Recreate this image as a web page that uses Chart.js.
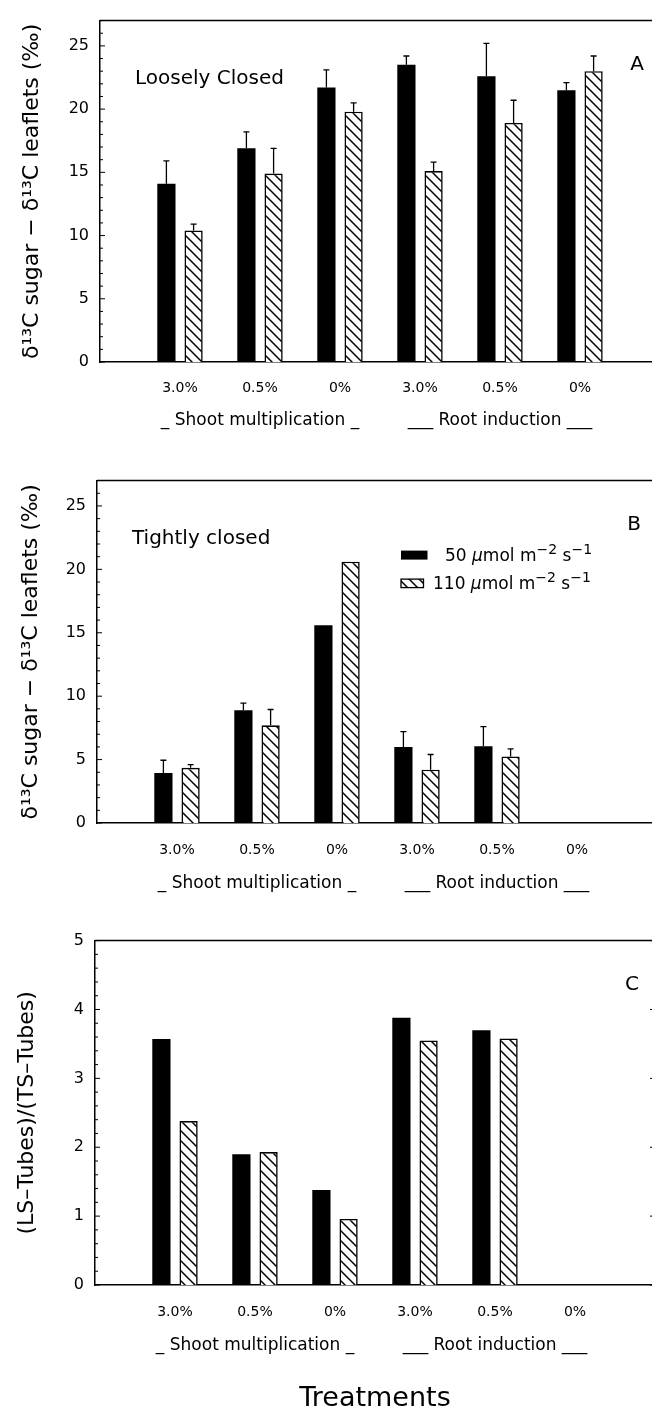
<!DOCTYPE html>
<html>
<head>
<meta charset="utf-8">
<script src="https://cdn.jsdelivr.net/npm/chart.js@4.4.1/dist/chart.umd.min.js"></script>
<style>
  html, body { margin: 0; padding: 0; background: #fff; overflow: hidden; }
  body { width: 652px; height: 1409px; position: relative; }
  .panel { position: absolute; left: 0; width: 680px; }
  canvas { display: block; }
</style>
</head>
<body>
<div class="panel" style="top:0"><canvas id="chartA" width="680" height="440"></canvas></div>
<div class="panel" style="top:460px"><canvas id="chartB" width="680" height="440"></canvas></div>
<div class="panel" style="top:920px"><canvas id="chartC" width="680" height="500"></canvas></div>
<script>
const FONT = '"DejaVu Sans", sans-serif';

const categories = ['3.0%', '0.5%', '0%', '3.0%', '0.5%', '0%'];
const groupLabels = ['_ Shoot multiplication _', '___ Root induction ___'];
const groupMiddle = [1, 4]; // middle category of each group
const doses = ['50', '110'];

// panel A, loosely closed tubes
const looseLow = [14.1, 16.9, 21.7, 23.5, 22.6, 21.5];
const looseLowErr = [1.8, 1.3, 1.4, 0.7, 2.6, 0.6];
const looseHigh = [10.4, 14.9, 19.8, 15.1, 18.9, 23.0];
const looseHighErr = [0.5, 2.0, 0.7, 0.7, 1.8, 1.2];

// panel B, tightly closed tubes
const tightLow = [3.95, 8.9, 15.6, 6.0, 6.05, null];
const tightLowErr = [1.0, 0.55, null, 1.2, 1.55, null];
const tightHigh = [4.35, 7.7, 20.6, 4.2, 5.25, null];
const tightHighErr = [0.25, 1.25, null, 1.2, 0.6, null];

// panel C, ratio LS/TS
const ratioLow = [3.57, 1.90, 1.38, 3.88, 3.70, null];
const ratioHigh = [2.38, 1.93, 0.96, 3.55, 3.58, null];

const yLabelsAB = [0, 5, 10, 15, 20, 25];
const yLabelsC = [0, 1, 2, 3, 4, 5];

// diagonal hatch for the 110 series
const hatch = (function () {
    const c = document.createElement('canvas');
    c.width = 10;
    c.height = 10;
    const g = c.getContext('2d');
    g.fillStyle = '#fff';
    g.fillRect(0, 0, 10, 10);
    g.strokeStyle = '#000';
    g.lineWidth = 1.5;
    g.beginPath();
    g.moveTo(-2, -2); g.lineTo(12, 12);
    g.moveTo(-2, 8); g.lineTo(2, 12);
    g.moveTo(8, -2); g.lineTo(12, 2);
    g.stroke();
    return g.createPattern(c, 'repeat');
})();

const pad = (a) => [null, ...a, null];
const isLabelled = (v, list) => list.some((t) => Math.abs(t - v) < 1e-6);

function unitText(ctx, x, y, dose) {
    const parts = [[dose + ' ', 'n'], ['\u03bc', 'i'], ['mol m', 'n'], ['\u22122', 's'], [' s', 'n'], ['\u22121', 's']];
    ctx.textAlign = 'left';
    ctx.textBaseline = 'alphabetic';
    parts.forEach(([t, k]) => {
        ctx.font = k === 's' ? `14px ${FONT}` : (k === 'i' ? `italic 17px ${FONT}` : `17px ${FONT}`);
        ctx.fillText(t, x, k === 's' ? y - 7 : y);
        x += ctx.measureText(t).width;
    });
}

function decor(p) {
    return {
        id: 'decor',
        afterDraw(chart) {
            const { ctx, chartArea: a, scales: { x, y } } = chart;
            ctx.save();
            ctx.strokeStyle = '#000';
            ctx.fillStyle = '#000';

            // top and right frame
            ctx.lineWidth = 1.5;
            ctx.beginPath();
            ctx.moveTo(a.left, a.top);
            ctx.lineTo(a.right, a.top);
            ctx.lineTo(a.right, a.bottom);
            ctx.stroke();

            // inward ticks
            ctx.lineWidth = 1;
            y.ticks.forEach((t) => {
                const py = y.getPixelForValue(t.value);
                const major = isLabelled(t.value, p.yLabels);
                ctx.beginPath();
                ctx.moveTo(a.left, py);
                ctx.lineTo(a.left + (major ? 5 : 3), py);
                if (major) {
                    ctx.moveTo(a.right, py);
                    ctx.lineTo(a.right - 5, py);
                }
                ctx.stroke();
            });

            // error bars (upper only)
            ctx.lineWidth = 1.3;
            (p.errors || []).forEach((errs, di) => {
                const vals = chart.data.datasets[di].data;
                chart.getDatasetMeta(di).data.forEach((bar, i) => {
                    const e = errs[i];
                    if (e == null || vals[i] == null) return;
                    const top = y.getPixelForValue(vals[i] + e);
                    ctx.beginPath();
                    ctx.moveTo(bar.x, bar.y);
                    ctx.lineTo(bar.x, top);
                    ctx.moveTo(bar.x - 3, top);
                    ctx.lineTo(bar.x + 3, top);
                    ctx.stroke();
                });
            });

            // panel letter and note
            ctx.font = `20px ${FONT}`;
            ctx.textBaseline = 'alphabetic';
            ctx.textAlign = 'center';
            ctx.fillText(p.letter, a.right - 23, a.top + 49);
            if (p.note) {
                ctx.textAlign = 'left';
                ctx.fillText(p.note, a.left + 35, a.top + 63.5);
            }

            // legend
            if (p.legend) {
                const lx = a.left + 304;
                const ly = a.top + 70;
                ctx.fillRect(lx, ly, 26.5, 9);
                ctx.fillStyle = hatch;
                ctx.fillRect(lx, ly + 28.5, 22.5, 8.5);
                ctx.lineWidth = 1.3;
                ctx.strokeRect(lx, ly + 28.5, 22.5, 8.5);
                ctx.fillStyle = '#000';
                unitText(ctx, a.left + 348, a.top + 80, doses[0]);
                unitText(ctx, a.left + 336, a.top + 108.7, doses[1]);
            }

            // treatment groups under the tick labels
            ctx.font = `17px ${FONT}`;
            ctx.textAlign = 'center';
            ctx.textBaseline = 'middle';
            groupLabels.forEach((g, i) => {
                ctx.fillText(g, x.getPixelForValue(groupMiddle[i] + 1), a.bottom + p.groupGap);
            });
            ctx.restore();
        },
    };
}

function panel(id, p) {
    new Chart(document.getElementById(id), {
        type: 'bar',
        data: {
            labels: ['', ...categories, ''],
            datasets: [
                {
                    label: doses[0] + ' \u03bcmol m\u207b\u00b2 s\u207b\u00b9',
                    data: pad(p.low),
                    backgroundColor: '#000',
                    borderWidth: 0,
                },
                {
                    label: doses[1] + ' \u03bcmol m\u207b\u00b2 s\u207b\u00b9',
                    data: pad(p.high),
                    backgroundColor: hatch,
                    borderColor: '#000',
                    borderWidth: 1.6,
                },
            ],
        },
        options: {
            responsive: false,
            animation: false,
            events: [],
            categoryPercentage: 0.68,
            barPercentage: 0.67,
            layout: { padding: { top: p.top, right: 680 - p.left - 560, bottom: 0, left: 0 } },
            scales: {
                x: {
                    offset: false,
                    grid: { display: false, drawTicks: false },
                    border: { color: '#000', width: 1.5 },
                    ticks: {
                        color: '#000',
                        font: { family: FONT, size: 14 },
                        padding: p.tickPad,
                        autoSkip: false,
                        maxRotation: 0,
                    },
                    title: p.xTitle
                        ? { display: true, text: p.xTitle, color: '#000', font: { family: FONT, size: 27 }, padding: { top: 0, bottom: 5 } }
                        : { display: false },
                    afterFit: (s) => { s.height = p.xHeight; },
                },
                y: {
                    min: 0,
                    max: p.max,
                    grid: { display: false, drawTicks: false },
                    border: { color: '#000', width: 1.5 },
                    ticks: {
                        stepSize: p.step,
                        autoSkip: false,
                        padding: 11,
                        color: '#000',
                        font: { family: FONT, size: 16 },
                        callback: (v) => (isLabelled(v, p.yLabels) ? String(Math.round(v)) : ''),
                    },
                    title: {
                        display: true,
                        text: p.yTitle,
                        color: '#000',
                        font: { family: FONT, size: 22 },
                        padding: { top: p.titlePad, bottom: 0 },
                    },
                    afterFit: (s) => { s.width = p.left; },
                },
            },
            plugins: {
                legend: { display: false },
                tooltip: { enabled: false },
            },
        },
        plugins: [decor(p)],
    });
}

const deltaTitle = '\u03b4\u00b9\u00b3C sugar \u2212 \u03b4\u00b9\u00b3C leaflets (\u2030)';

panel('chartA', {
    low: looseLow, high: looseHigh, errors: [pad(looseLowErr), pad(looseHighErr)],
    max: 27, step: 1, yLabels: yLabelsAB, yTitle: deltaTitle,
    top: 16, left: 100, xHeight: 78, titlePad: 19, tickPad: 17.5, groupGap: 59,
    letter: 'A', note: 'Loosely Closed',
});

panel('chartB', {
    low: tightLow, high: tightHigh, errors: [pad(tightLowErr), pad(tightHighErr)],
    max: 27, step: 1, yLabels: yLabelsAB, yTitle: deltaTitle,
    top: 18, left: 97, xHeight: 77, titlePad: 18, tickPad: 19, groupGap: 61,
    letter: 'B', note: 'Tightly closed', legend: true,
});

panel('chartC', {
    low: ratioLow, high: ratioHigh,
    max: 5, step: 0.2, yLabels: yLabelsC, yTitle: '(LS\u2013Tubes)/(TS\u2013Tubes)',
    top: 19, left: 95, xHeight: 135, titlePad: 14, tickPad: 19, groupGap: 61,
    letter: 'C', xTitle: 'Treatments',
});
</script>
</body>
</html>
